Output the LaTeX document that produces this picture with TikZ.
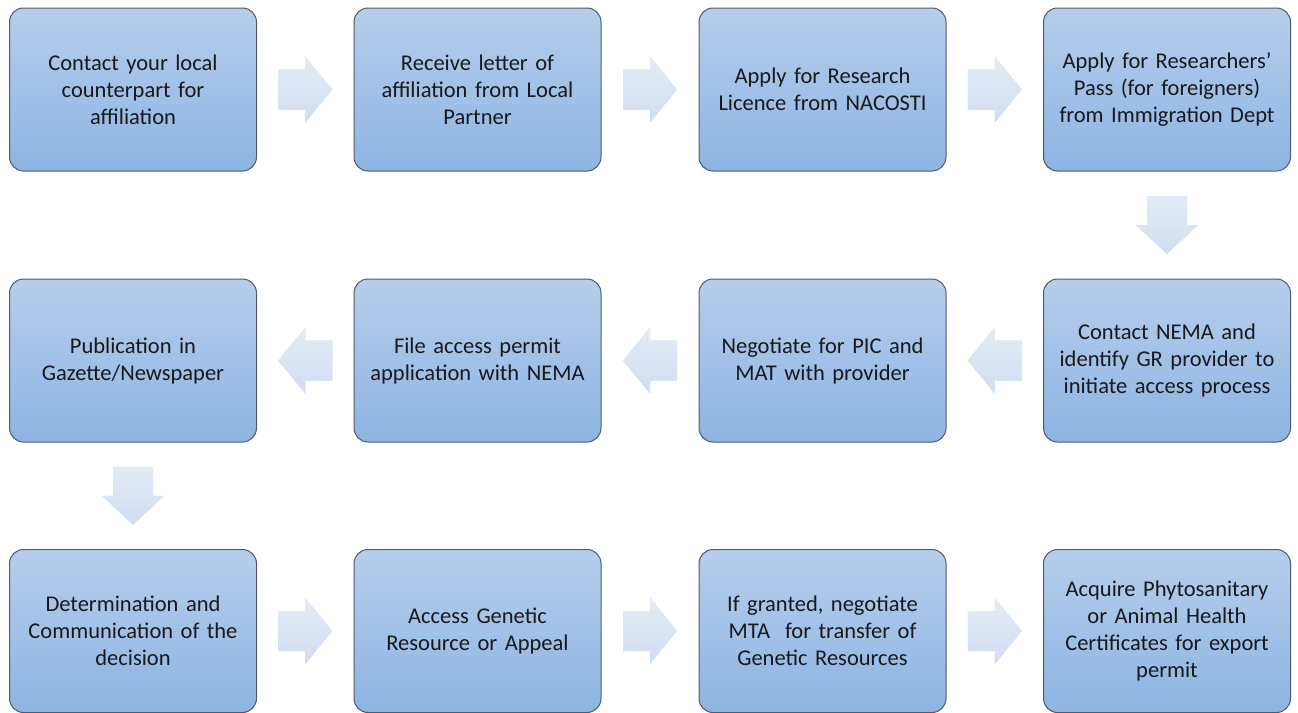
\documentclass[tikz,border=0pt]{standalone}
\usepackage{fontspec}
\setmainfont{Carlito}
\usetikzlibrary{calc}
\definecolor{boxtop}{RGB}{182,206,236}
\definecolor{boxbot}{RGB}{141,180,227}
\definecolor{boxline}{RGB}{80,90,105}
\definecolor{arrtop}{RGB}{228,235,246}
\definecolor{arrbot}{RGB}{208,221,240}
\definecolor{txt}{RGB}{25,25,25}
\tikzset{
  stepbox/.style={draw=boxline, line width=1pt, rounded corners=14pt,
    top color=boxtop, bottom color=boxbot,
    minimum width=247pt, minimum height=163pt, text width=235pt,
    align=center, inner sep=0pt, text=txt,
    font=\fontsize{22.5}{27}\selectfont},
  arrowfill/.style={draw=none, preaction={fill=arrbot}, top color=arrtop, bottom color=arrbot},
  pics/rarrow/.style={code={
    \path[arrowfill] (-27,-20) -- (0,-20) -- (0,-33) -- (27,0) -- (0,33) -- (0,20) -- (-27,20) -- cycle;}},
  pics/larrow/.style={code={
    \path[arrowfill] (27,-20) -- (0,-20) -- (0,-33) -- (-27,0) -- (0,33) -- (0,20) -- (27,20) -- cycle;}},
  pics/darrow/.style={code={
    \path[arrowfill] (-20,-29) -- (-20,0) -- (-31,0) -- (0,29) -- (31,0) -- (20,0) -- (20,-29) -- cycle;}}
}
\begin{document}
\begin{tikzpicture}[x=1pt,y=-1pt]
\useasboundingbox (0,0) rectangle (1298,712);
\node[stepbox] (n1) at (133,89.5) {Contact your local\\counterpart for\\affiliation};
\node[stepbox] (n2) at (477.5,89.5) {Receive letter of\\affiliation from Local\\Partner};
\node[stepbox] (n3) at (822.5,89.5) {Apply for Research\\Licence from NACOSTI};
\node[stepbox] (n4) at (1167,89.5) {Apply for Researchers’\\Pass (for foreigners)\\from Immigration Dept};
\node[stepbox] (n5) at (1167,360.5) {Contact NEMA and\\identify GR provider to\\initiate access process};
\node[stepbox] (n6) at (822.5,360.5) {Negotiate for PIC and\\MAT with provider};
\node[stepbox] (n7) at (477.5,360.5) {File access permit\\application with NEMA};
\node[stepbox] (n8) at (133,360.5) {Publication in\\Gazette/Newspaper};
\node[stepbox] (n9) at (133,631) {Determination and\\Communication of the\\decision};
\node[stepbox] (n10) at (477.5,631) {Access Genetic\\Resource or Appeal};
\node[stepbox] (n11) at (822.5,631) {If granted, negotiate\\MTA\ \ for transfer of\\Genetic Resources};
\node[stepbox] (n12) at (1167,631) {Acquire Phytosanitary\\or Animal Health\\Certificates for export\\permit};
% connectors
\pic at ($(n1.east)!0.5!(n2.west)$) {rarrow};
\pic at ($(n2.east)!0.5!(n3.west)$) {rarrow};
\pic at ($(n3.east)!0.5!(n4.west)$) {rarrow};
\pic at ($(n4.south)!0.5!(n5.north)$) {darrow};
\pic at ($(n5.west)!0.5!(n6.east)$) {larrow};
\pic at ($(n6.west)!0.5!(n7.east)$) {larrow};
\pic at ($(n7.west)!0.5!(n8.east)$) {larrow};
\pic at ($(n8.south)!0.5!(n9.north)$) {darrow};
\pic at ($(n9.east)!0.5!(n10.west)$) {rarrow};
\pic at ($(n10.east)!0.5!(n11.west)$) {rarrow};
\pic at ($(n11.east)!0.5!(n12.west)$) {rarrow};
\end{tikzpicture}
\end{document}
